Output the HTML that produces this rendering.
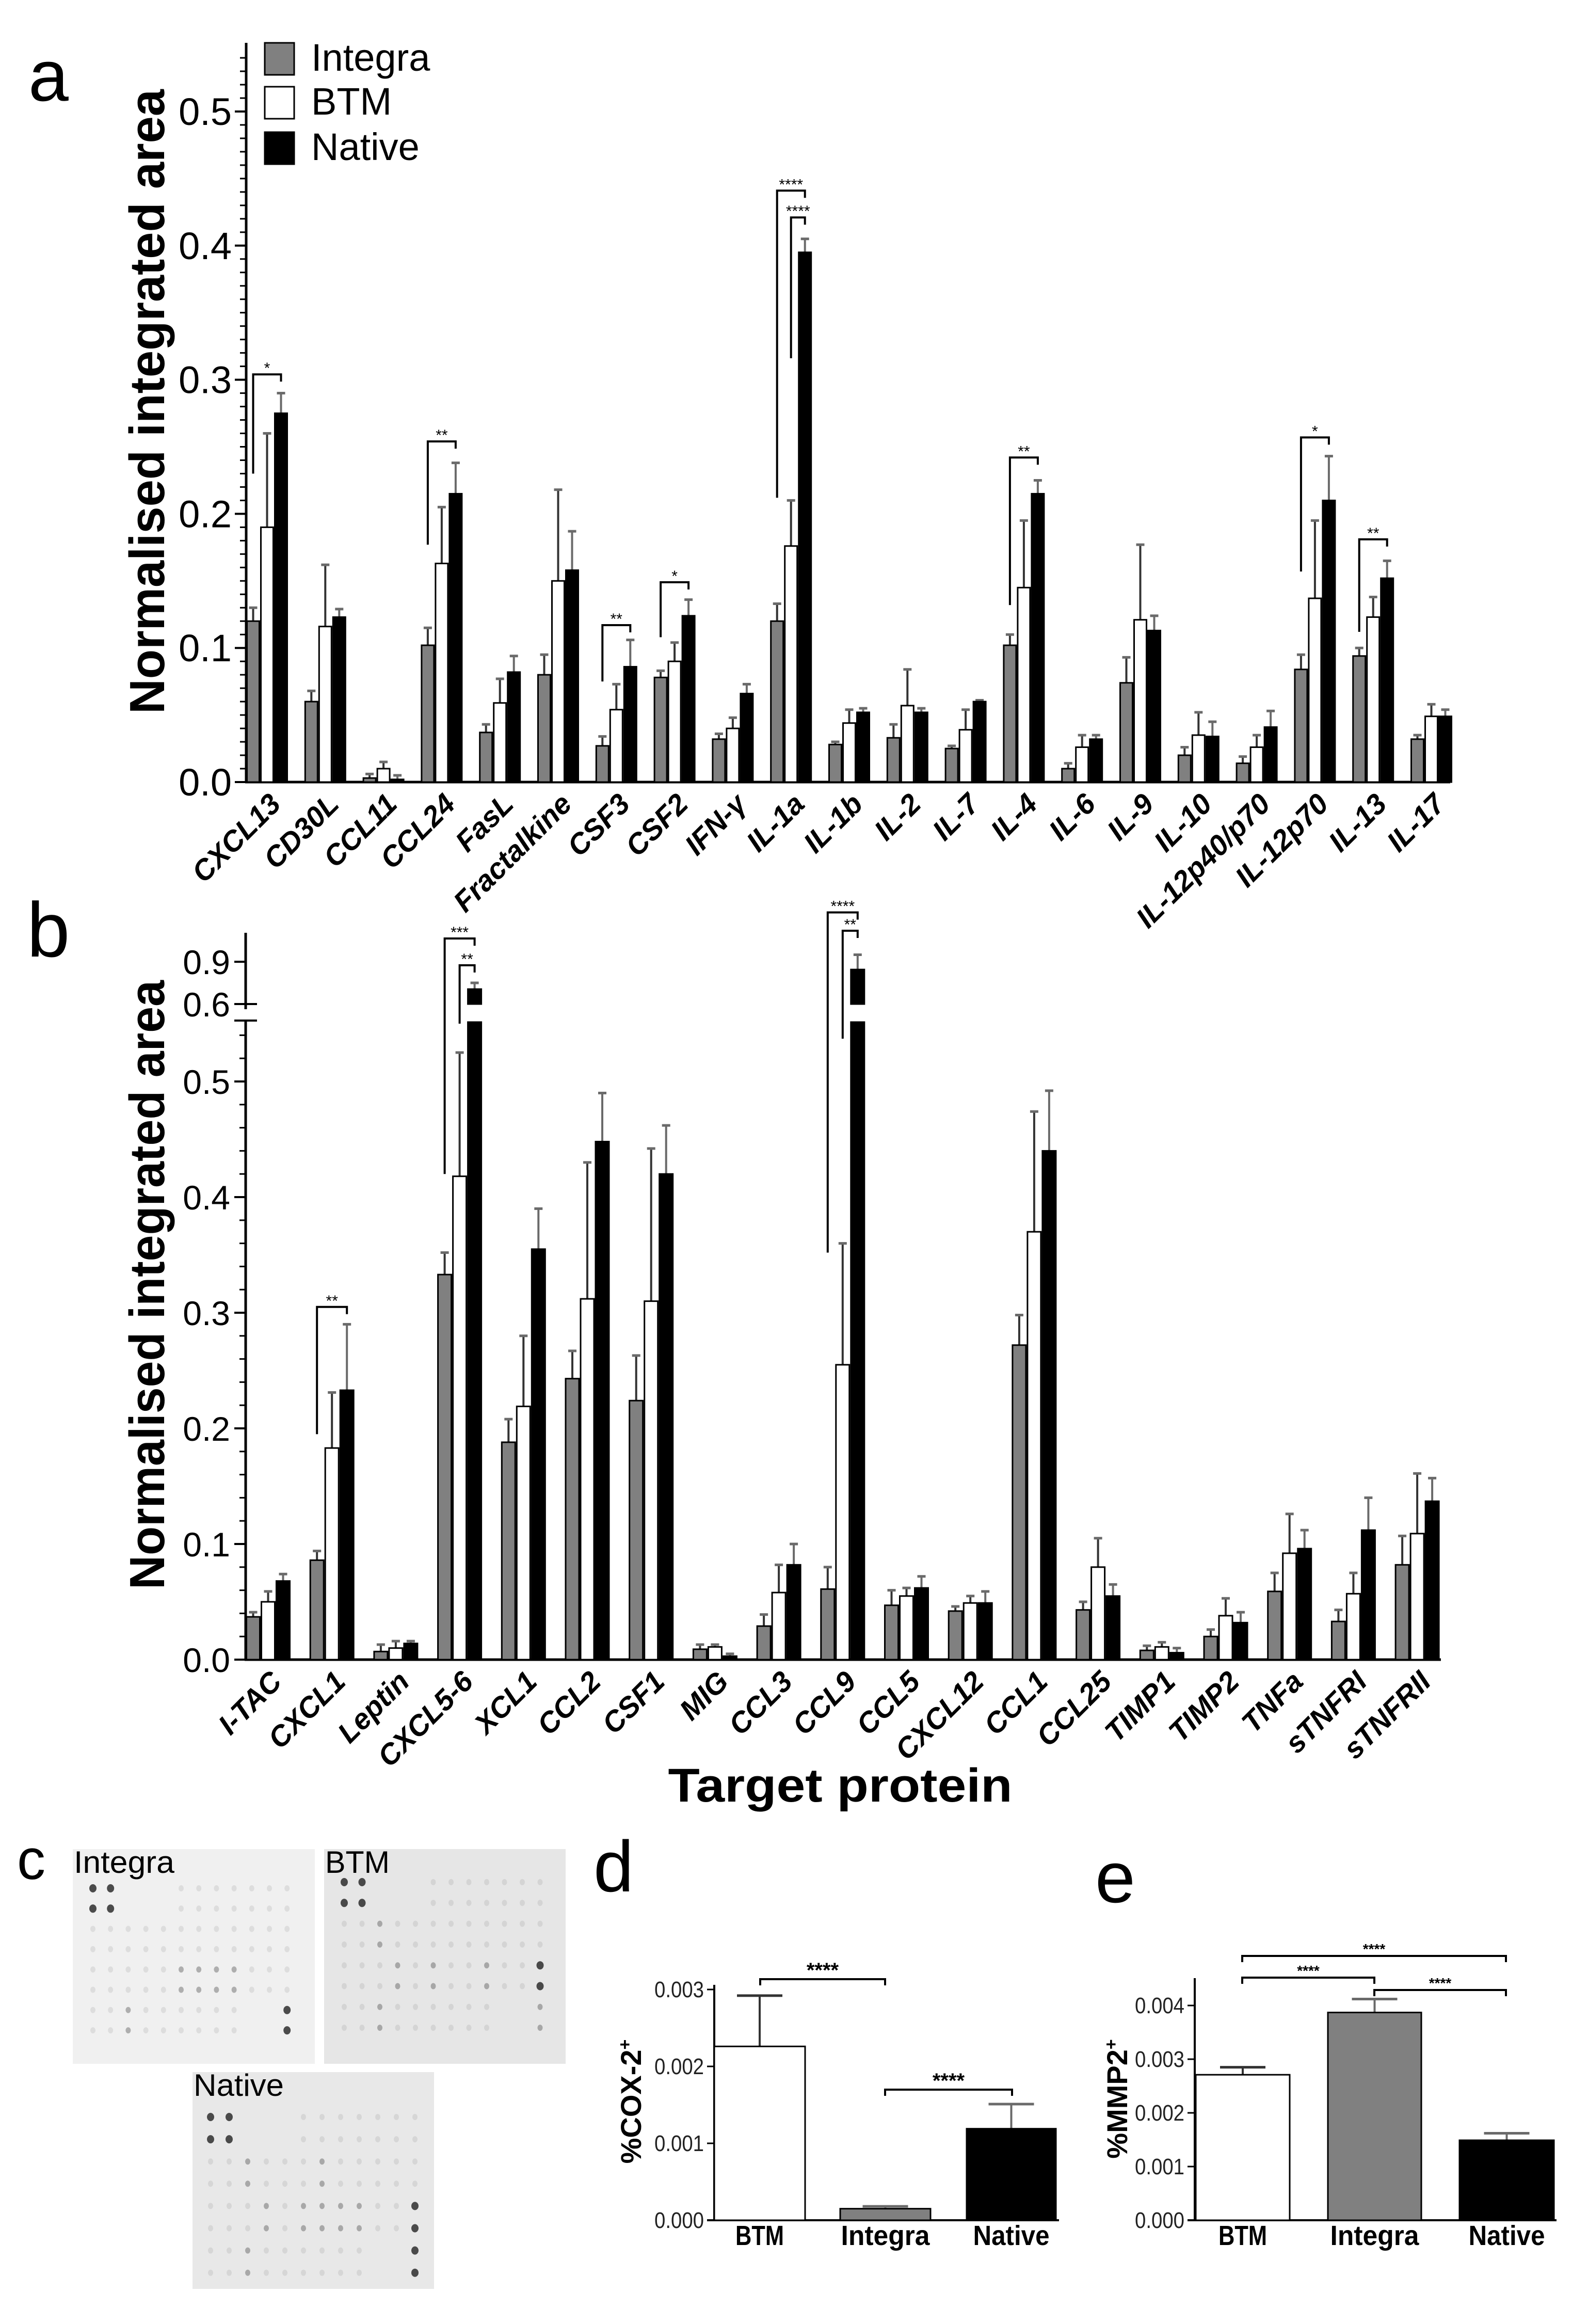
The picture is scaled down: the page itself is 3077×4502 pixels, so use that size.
<!DOCTYPE html>
<html><head><meta charset="utf-8">
<style>
html,body{margin:0;padding:0;background:#fff;}
svg{display:block;}
text{font-family:"Liberation Sans",Arial,sans-serif;}
</style></head>
<body>
<svg id="fig" xmlns="http://www.w3.org/2000/svg" width="3077" height="4502" viewBox="0 0 3077 4502">
<rect x="0" y="0" width="3077" height="4502" fill="#fff"/>
<g id="pa"></g>
<g id="pb"></g>
<g id="pc"></g>
<g id="pd"></g>
<g id="pe"></g>
</svg>
<script>
// ---------- Panel a data ----------
const catsA = ["CXCL13","CD30L","CCL11","CCL24","FasL","Fractalkine","CSF3","CSF2","IFN-\u03b3","IL-1a","IL-1b","IL-2","IL-7","IL-4","IL-6","IL-9","IL-10","IL-12p40/p70","IL-12p70","IL-13","IL-17"];
const integraA = [0.120,0.060,0.003,0.102,0.037,0.080,0.027,0.078,0.032,0.120,0.028,0.033,0.025,0.102,0.010,0.074,0.020,0.014,0.084,0.094,0.032];
const integraAErr = [0.130,0.068,0.006,0.115,0.043,0.095,0.034,0.083,0.036,0.133,0.030,0.043,0.027,0.110,0.014,0.093,0.026,0.019,0.095,0.100,0.035];
const btmA = [0.190,0.116,0.010,0.163,0.059,0.150,0.054,0.090,0.040,0.176,0.044,0.057,0.039,0.145,0.026,0.121,0.035,0.026,0.137,0.123,0.049];
const btmAErr = [0.260,0.162,0.015,0.205,0.077,0.218,0.073,0.104,0.048,0.210,0.054,0.084,0.054,0.195,0.035,0.177,0.052,0.035,0.195,0.138,0.058];
const nativeA = [0.275,0.123,0.002,0.215,0.082,0.158,0.086,0.124,0.066,0.395,0.052,0.052,0.060,0.215,0.032,0.113,0.034,0.041,0.210,0.152,0.049];
const nativeAErr = [0.290,0.129,0.005,0.238,0.094,0.187,0.106,0.136,0.073,0.405,0.055,0.055,0.061,0.225,0.035,0.124,0.045,0.053,0.243,0.165,0.054];
const ticksA = [0.0,0.1,0.2,0.3,0.4,0.5];
const tickLabelsA = ["0.0","0.1","0.2","0.3","0.4","0.5"];
const sigGroupA = [0,3,6,7,9,9,13,18,19];
const sigFromA = [0,0,0,0,0,1,0,0,0];
const sigLevelA = [0.304,0.254,0.117,0.149,0.441,0.421,0.242,0.257,0.181];
const sigLegA = [0.230,0.177,0.075,0.108,0.212,0.316,0.132,0.157,0.112];
const sigTextA = ["*","**","**","*","****","****","**","*","**"];

// ---------- Panel b data ----------
const catsB = ["I-TAC","CXCL1","Leptin","CXCL5-6","XCL1","CCL2","CSF1","MIG","CCL3","CCL9","CCL5","CXCL12","CCL1","CCL25","TIMP1","TIMP2","TNFa","sTNFRI","sTNFRII"];
const integraB = [0.037,0.086,0.007,0.333,0.188,0.243,0.224,0.009,0.029,0.061,0.047,0.042,0.272,0.043,0.008,0.020,0.059,0.033,0.082];
const integraBErr = [0.041,0.094,0.013,0.352,0.208,0.267,0.263,0.013,0.039,0.080,0.060,0.046,0.298,0.050,0.012,0.026,0.075,0.043,0.107];
const btmB = [0.050,0.183,0.010,0.418,0.219,0.312,0.310,0.011,0.058,0.255,0.055,0.049,0.370,0.080,0.011,0.038,0.092,0.057,0.109];
const btmBErr = [0.059,0.231,0.016,0.525,0.280,0.430,0.442,0.013,0.082,0.360,0.062,0.055,0.474,0.105,0.015,0.053,0.126,0.075,0.161];
const nativeB = [0.068,0.233,0.014,0.706,0.355,0.448,0.420,0.003,0.082,0.845,0.062,0.049,0.440,0.055,0.006,0.032,0.096,0.112,0.137];
const nativeBErr = [0.074,0.290,0.016,0.750,0.390,0.490,0.462,0.005,0.100,0.950,0.072,0.059,0.492,0.065,0.010,0.041,0.112,0.140,0.157];
const ticksB = [0.0,0.1,0.2,0.3,0.4,0.5,0.6,0.9];
const tickLabelsB = ["0.0","0.1","0.2","0.3","0.4","0.5","0.6","0.9"];
const sigGroupB = [1,3,3,9,9];
const sigFromB = [0,0,1,0,1];
const sigLevelB = [0.305,1.065,0.875,1.25,1.12];
const sigLegB = [0.195,0.42,0.55,0.352,0.537];
const sigTextB = ["**","***","**","****","**"];

// ---------- Panel d/e data ----------
const catsD = ["BTM","Integra","Native"];
const valuesD = [0.00226,0.00015,0.00119];
const errD = [0.00292,0.00018,0.00151];
const ticksD = [0,0.001,0.002,0.003];
const tickLabelsD = ["0.000","0.001","0.002","0.003"];
const catsE = ["BTM","Integra","Native"];
const valuesE = [0.00271,0.00387,0.00149];
const errE = [0.00285,0.00412,0.00162];
const ticksE = [0,0.001,0.002,0.003,0.004];
const tickLabelsE = ["0.000","0.001","0.002","0.003","0.004"];

// ---------- Blots ----------
const blotIntegra = [
"330001111111","330001111111","111111111111","111111111111",
"111112222111","111112222111","112111111003","112111111003"];
const blotBTM = [
"330001111111","330001111111","112111111111","112111111111",
"111212112113","111212112113","112111111002","112111111002"];
const blotNative = [
"330001111111","330001111111","112111211111","112111211111",
"111212222113","111212222113","112111111003","112111111003"];

const NS="http://www.w3.org/2000/svg";
function mk(parent, tag, attrs, text){
  const e=document.createElementNS(NS,tag);
  for(const k in attrs) e.setAttribute(k,attrs[k]);
  if(text!==undefined) e.textContent=text;
  parent.appendChild(e);
  return e;
}
const fills=["#808080","#ffffff","#000000"];
const errCol="#6a6a6a";
const LABEL_ANGLE=-45, LABEL_FONT=56;

// ===== Panel a =====
(function(){
  const g=document.getElementById('pa');
  const x0=477, y0=1515, per=2598, axTop=83, step=112.8, bw=27, axEnd=2810;
  const ya=v=>y0-v*per;
  const gx=i=>x0+i*step;
  let t=mk(g,'text',{x:55,y:195,'font-size':140});t.textContent='a';
  
  let ax=mk(g,'line',{x1:x0,y1:axTop,x2:x0,y2:y0+2,stroke:'#000','stroke-width':5});
  
  let xa=mk(g,'line',{x1:x0-2,y1:y0,x2:axEnd,y2:y0,stroke:'#000','stroke-width':5});
  
  for(let k=1;k<55;k++){ if(k%10===0) continue;
    mk(g,'line',{x1:x0-12,y1:ya(k/100),x2:x0,y2:ya(k/100),stroke:'#000','stroke-width':3});}
  ticksA.forEach((v,i)=>{
    mk(g,'line',{x1:x0-22,y1:ya(v),x2:x0,y2:ya(v),stroke:'#000','stroke-width':4});
    const tl=mk(g,'text',{x:x0-28,y:ya(v)+26,'font-size':74,'text-anchor':'end'},tickLabelsA[i]);
    
  });
  const yt=mk(g,'text',{x:0,y:0,'font-size':96,'font-weight':'bold','text-anchor':'middle',transform:'translate(318,778) rotate(-90)',textLength:1210,lengthAdjust:'spacingAndGlyphs'},'Normalised integrated area');
  
  const series=[[integraA,integraAErr],[btmA,btmAErr],[nativeA,nativeAErr]];
  catsA.forEach((c,i)=>{
    series.forEach((s,j)=>{
      const bx=gx(i)+j*bw, v=s[0][i], e=s[1][i], cx=bx+bw/2;
      const el=mk(g,'line',{x1:cx,y1:ya(v),x2:cx,y2:ya(e),stroke:j===2?errCol:'#333','stroke-width':4});
      
      mk(g,'line',{x1:cx-8,y1:ya(e),x2:cx+8,y2:ya(e),stroke:errCol,'stroke-width':5});
      const r=mk(g,'rect',{x:bx+1.5,y:ya(v),width:bw-3,height:Math.max(0,y0-ya(v)),fill:fills[j],stroke:'#000','stroke-width':3});
      
    });
    const cx=gx(i)+40;
    const lab=mk(g,'text',{x:0,y:0,'font-size':LABEL_FONT,'font-weight':'bold','font-style':'italic','text-anchor':'end',transform:`translate(${cx+30},${y0+46}) rotate(${LABEL_ANGLE})`},c);
    
  });
  sigGroupA.forEach((gi,k)=>{
    const xl=gx(gi)+sigFromA[k]*bw+bw/2, xr=gx(gi)+2*bw+bw/2, yb=ya(sigLevelA[k]);
    const p=mk(g,'path',{d:`M${xl},${ya(sigLegA[k])} V${yb} H${xr} V${yb+14}`,fill:'none',stroke:'#000','stroke-width':4});
    
    mk(g,'text',{x:(xl+xr)/2,y:yb-2,'font-size':30,'text-anchor':'middle'},sigTextA[k]);
  });
  const leg=[["Integra","#808080",83],["BTM","#fff",168],["Native","#000",256]];
  leg.forEach(l=>{
    const r=mk(g,'rect',{x:513,y:l[2],width:57,height:62,fill:l[1],stroke:'#000','stroke-width':3});
    
    const tt=mk(g,'text',{x:603,y:l[2]+54,'font-size':74},l[0]);
    
  });
})();

// ===== Panel b =====
(function(){
  const g=document.getElementById('pb');
  const x0=476, y0=3215, per=2240, step=123.7, bw=29, axEnd=2792;
  const lowTop=1977, upBase=1945, upPer=273, upTop=1807, upBottom=1955;
  const yb=v=> v<=0.555 ? y0-v*per : upBase-(v-0.6)*upPer;
  const gx=i=>x0+i*step;
  let t=mk(g,'text',{x:52,y:1853,'font-size':150},'b');
  
  const ax=mk(g,'line',{x1:x0,y1:lowTop,x2:x0,y2:y0+2,stroke:'#000','stroke-width':5});
  
  mk(g,'line',{x1:x0,y1:upTop,x2:x0,y2:upBottom,stroke:'#000','stroke-width':5});
  mk(g,'line',{x1:x0-22,y1:lowTop,x2:x0+22,y2:lowTop,stroke:'#000','stroke-width':4});
  mk(g,'line',{x1:x0,y1:upBase,x2:x0+22,y2:upBase,stroke:'#000','stroke-width':4});
  const xa=mk(g,'line',{x1:x0-2,y1:y0,x2:axEnd,y2:y0,stroke:'#000','stroke-width':5});
  
  for(let k=1;k<28;k++){ if(k%5===0) continue;
    mk(g,'line',{x1:x0-12,y1:yb(k/50),x2:x0,y2:yb(k/50),stroke:'#000','stroke-width':3});}
  ticksB.forEach((v,i)=>{
    mk(g,'line',{x1:x0-22,y1:yb(v),x2:x0,y2:yb(v),stroke:'#000','stroke-width':4});
    const tl=mk(g,'text',{x:x0-30,y:yb(v)+24,'font-size':66,'text-anchor':'end'},tickLabelsB[i]);
    
  });
  const yt=mk(g,'text',{x:0,y:0,'font-size':96,'font-weight':'bold','text-anchor':'middle',transform:'translate(318,2489) rotate(-90)',textLength:1180,lengthAdjust:'spacingAndGlyphs'},'Normalised integrated area');
  
  const series=[[integraB,integraBErr],[btmB,btmBErr],[nativeB,nativeBErr]];
  catsB.forEach((c,i)=>{
    series.forEach((s,j)=>{
      const bx=gx(i)+j*bw, v=s[0][i], e=s[1][i], cx=bx+bw/2;
      const el=mk(g,'line',{x1:cx,y1:yb(v),x2:cx,y2:yb(e),stroke:j===2?errCol:'#333','stroke-width':4});
      
      mk(g,'line',{x1:cx-8,y1:yb(e),x2:cx+8,y2:yb(e),stroke:errCol,'stroke-width':5});
      if(v>0.555){
        const r1=mk(g,'rect',{x:bx+1.5,y:lowTop+3,width:bw-3,height:y0-lowTop-3,fill:fills[j],stroke:'#000','stroke-width':3});
        
        const r2=mk(g,'rect',{x:bx+1.5,y:yb(v),width:bw-3,height:upBase-yb(v),fill:fills[j],stroke:'#000','stroke-width':3});
        
      } else {
        const r=mk(g,'rect',{x:bx+1.5,y:yb(v),width:bw-3,height:Math.max(0,y0-yb(v)),fill:fills[j],stroke:'#000','stroke-width':3});
        
      }
    });
    const cx=gx(i)+43;
    const lab=mk(g,'text',{x:0,y:0,'font-size':LABEL_FONT,'font-weight':'bold','font-style':'italic','text-anchor':'end',transform:`translate(${cx+30},${y0+46}) rotate(${LABEL_ANGLE})`},c);
    
  });
  sigGroupB.forEach((gi,k)=>{
    const xl=gx(gi)+sigFromB[k]*bw+bw/2, xr=gx(gi)+2*bw+bw/2, y=yb(sigLevelB[k]);
    const p=mk(g,'path',{d:`M${xl},${yb(sigLegB[k])} V${y} H${xr} V${y+14}`,fill:'none',stroke:'#000','stroke-width':4});
    
    mk(g,'text',{x:(xl+xr)/2,y:y-2,'font-size':30,'text-anchor':'middle'},sigTextB[k]);
  });
  const xt=mk(g,'text',{x:1628,y:3490,'font-size':92,'font-weight':'bold','text-anchor':'middle',textLength:667,lengthAdjust:'spacingAndGlyphs'},'Target protein');
  
})();

// ===== Panel c =====
(function(){
  const g=document.getElementById('pc');
  let t=mk(g,'text',{x:33,y:3640,'font-size':110},'c');
  
  const blots=[
    ["Integra",141,3582,469,416,180,3658,34.2,39.3,blotIntegra,"#f0f0f0"],
    ["BTM",628,3582,468,416,667,3646,34.5,40.3,blotBTM,"#e6e6e6"],
    ["Native",373,4014,468,420,408,4101,36,43.1,blotNative,"#e8e8e8"]];
  blots.forEach(b=>{
    const grp=mk(g,'g',{});
    
    mk(grp,'rect',{x:b[1],y:b[2],width:b[3],height:b[4],fill:b[10]});
    b[9].forEach((row,ri)=>{
      row.split('').forEach((ch,ci)=>{
        const lv=+ch; if(!lv) return;
        const op=[0,0.09,0.32,0.8][lv];
        mk(grp,'ellipse',{cx:b[5]+ci*b[7],cy:b[6]+ri*b[8],rx:lv===3?7:5,ry:lv===3?8:6,fill:'#222','fill-opacity':op});
      });
    });
    const tt=mk(grp,'text',{x:b[1]+2,y:b[2]+46,'font-size':60,textLength:b[0]==='Integra'?195:(b[0]==='BTM'?125:175),lengthAdjust:'spacingAndGlyphs'},b[0]);
    
  });
})();

// ===== Small bar charts (d, e) =====
function smallChart(id, letter, lx, ly, x0, y0, per, axTop, axEnd, bars, cats, vals, errs, ticks, tlabels, colors, title, titleX, titleY, sigs, sigFont){
  const g=document.getElementById(id);
  let t=mk(g,'text',{x:lx,y:ly,'font-size':140},letter);
  
  const yv=v=>y0-v*per;
  const ax=mk(g,'line',{x1:x0,y1:axTop,x2:x0,y2:y0,stroke:'#000','stroke-width':4});
  
  const xa=mk(g,'line',{x1:x0-14,y1:y0,x2:axEnd,y2:y0,stroke:'#000','stroke-width':4});
  
  ticks.forEach((v,i)=>{
    mk(g,'line',{x1:x0-14,y1:yv(v),x2:x0,y2:yv(v),stroke:'#000','stroke-width':3});
    const tl=mk(g,'text',{x:x0-20,y:yv(v)+15,'font-size':44,'text-anchor':'end',fill:'#222',textLength:96,lengthAdjust:'spacingAndGlyphs'},tlabels[i]);
    
  });
  cats.forEach((c,i)=>{
    const b=bars[i], cx=(b[0]+b[1])/2;
    const el=mk(g,'line',{x1:cx,y1:yv(vals[i]),x2:cx,y2:yv(errs[i]),stroke:i===0?'#333':errCol,'stroke-width':4});
    
    mk(g,'line',{x1:cx-44,y1:yv(errs[i]),x2:cx+44,y2:yv(errs[i]),stroke:i===0?'#333':errCol,'stroke-width':5});
    const r=mk(g,'rect',{x:b[0],y:yv(vals[i]),width:b[1]-b[0],height:y0-yv(vals[i]),fill:colors[i],stroke:'#000','stroke-width':3});
    
    const lab=mk(g,'text',{x:cx,y:y0+48,'font-size':54,'font-weight':'bold','text-anchor':'middle',textLength:c.length*24+(c==='BTM'?22:4),lengthAdjust:'spacingAndGlyphs'},c);
    
  });
  const yt=mk(g,'text',{x:0,y:0,'font-size':56,'font-weight':'bold','text-anchor':'middle',transform:`translate(${titleX},${titleY}) rotate(-90)`},title[0]);
  
  mk(yt,'tspan',{dy:-20,'font-size':34},'+');
  sigs.forEach(s=>{
    const p=mk(g,'path',{d:`M${s[0]},${s[2]+12} V${s[2]} H${s[1]} V${s[2]+12}`,fill:'none',stroke:'#000','stroke-width':4});
    
    mk(g,'text',{x:(s[0]+s[1])/2,y:s[2]-4,'font-size':sigFont,'font-weight':'bold','text-anchor':'middle'},'****');
  });
}
smallChart('pd','d',1150,3664,1384,4301,149000,3845,2052,
  [[1384,1560],[1628,1803],[1873,2046]],catsD,valuesD,errD,ticksD,tickLabelsD,["#fff","#808080","#000"],
  ["%COX-2"],1242,4071,[[1473,1715,3834],[1715,1961,4048]],40);
smallChart('pe','e',2122,3685,2315,4301,104000,3832,3016,
  [[2317,2499],[2573,2754],[2828,3011]],catsE,valuesE,errE,ticksE,tickLabelsE,["#fff","#808080","#000"],
  ["%MMP2"],2184,4066,[[2407,2918,3789],[2407,2663,3831],[2663,2918,3855]],28);
</script>
</body></html>
